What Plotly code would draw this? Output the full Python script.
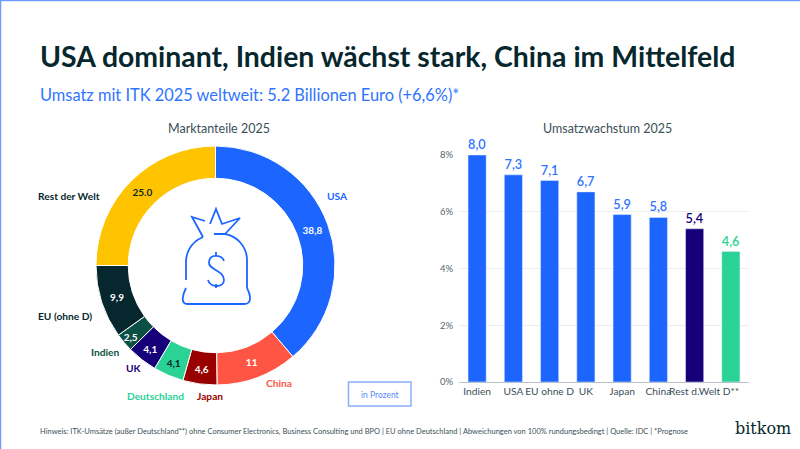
import plotly.graph_objects as go

W, H = 800, 449

# Marktanteile 2025
share_labels = ["USA", "China", "Japan", "Deutschland", "UK", "Indien", "EU (ohne D)", "Rest der Welt"]
share_values = [38.8, 11, 4.6, 4.1, 4.1, 2.5, 9.9, 25.0]
share_text = ["38,8", "11", "4,6", "4,1", "4,1", "2,5", "9,9", "25.0"]
share_colors = ["#1c66ff", "#ff5545", "#990000", "#2ad296", "#15007a", "#0b5044", "#06272d", "#ffc400"]
share_text_colors = ["white", "white", "white", "#06272d", "white", "white", "white", "#06272d"]

# Umsatzwachstum 2025
growth_labels = ["Indien", "USA", "EU ohne D", "UK", "Japan", "China", "Rest d.Welt", "D**"]
growth_values = [8.0, 7.3, 7.1, 6.7, 5.9, 5.8, 5.4, 4.6]
growth_colors = ["#1c66ff"] * 6 + ["#15007a", "#2ad296"]
growth_text_colors = ["#2f74ff"] * 6 + ["#15007a", "#2ad296"]

DARK = "#06272d"
BLUE = "#1c66ff"
FONT = "Lato"


def px(x):
    return x / W


def py(y):
    return 1 - y / H


def icon_path(cmds):
    # icon sketched in pixels, converted to paper coordinates
    out = []
    for c in cmds:
        letter, pts = c[0], c[1:]
        out.append(letter + " ".join(f"{px(x):.5f},{py(y):.5f}" for x, y in pts))
    return " ".join(out)


fig = go.Figure()

fig.add_trace(go.Pie(
    labels=share_labels, values=share_values, text=share_text,
    textinfo="text", textposition="inside", insidetextorientation="horizontal",
    textfont=dict(family=FONT, size=10, weight="bold", color=share_text_colors),
    marker=dict(colors=share_colors, line=dict(color="white", width=1)),
    hole=0.73, sort=False, direction="clockwise", rotation=0, showlegend=False,
    domain=dict(x=[px(96), px(335)], y=[py(385), py(146)]),
))

fig.add_trace(go.Bar(
    x=growth_labels, y=growth_values, marker_color=growth_colors, width=0.5,
    text=growth_values, texttemplate="%{y:.1f}", textposition="outside",
    textfont=dict(family=FONT, size=13, weight=600, color=growth_text_colors),
    cliponaxis=False, showlegend=False,
))

fig.update_layout(
    width=W, height=H, autosize=False,
    margin=dict(l=0, r=0, t=0, b=0, autoexpand=False),
    paper_bgcolor="white", plot_bgcolor="white",
    separators=",.",
    font=dict(family=FONT, color=DARK),
    uniformtext=dict(minsize=10, mode="show"),
    xaxis=dict(domain=[px(459), px(749)], tickangle=0, ticks="", showgrid=False,
               tickfont=dict(size=10.2, color="#3d5058"),
               showline=True, linecolor="#b9c2ca", linewidth=1),
    yaxis=dict(domain=[py(382), py(155)], range=[0, 8], tickvals=[0, 2, 4, 6, 8],
               ticktext=["0%", "2%", "4%", "6%", "8%"], ticks="", ticklabelstandoff=5,
               tickfont=dict(size=9.5, color="#55666e"),
               gridcolor="#ebedef", gridwidth=1, zeroline=False),
)

# texts placed by hand
def note(text, x, y, size, color, bold=False, anchor="left", family=FONT):
    if bold:
        text = f"<b>{text}</b>"
    fig.add_annotation(text=text, x=px(x), y=py(y), xref="paper", yref="paper",
                       xanchor=anchor, yanchor="middle", showarrow=False,
                       font=dict(size=size, color=color, family=family))


note("USA dominant, Indien wächst stark, China im Mittelfeld", 37.5, 56, 28.4, DARK, True)
note("Umsatz mit ITK 2025 weltweit: 5.2 Billionen Euro (+6,6%)*", 37.5, 94, 16.4, "#2f74ff")
note("Marktanteile 2025", 219, 128, 12.5, "#3d5058", anchor="center")
note("Umsatzwachstum 2025", 607, 128, 12.5, "#3d5058", anchor="center")

note("USA", 325, 196, 10.2, BLUE, True)
note("Rest der Welt", 36, 196, 10.2, DARK, True)
note("EU (ohne D)", 36, 316, 10.2, DARK, True)
note("Indien", 89, 352, 10.2, "#0b5044", True)
note("UK", 124, 368, 10.2, "#15007a", True)
note("Deutschland", 125, 396, 10.2, "#2ad296", True)
note("Japan", 195, 396, 10.2, "#990000", True)
note("China", 264, 383, 10.2, "#ff5545", True)

note("in Prozent", 379.5, 395, 8.5, "#5b8cff", anchor="center")
note("Hinweis: ITK-Umsätze (außer Deutschland**) ohne Consumer Electronics, Business Consulting und BPO | "
     "EU ohne Deutschland | Abweichungen von 100% rundungsbedingt | Quelle: IDC | *Prognose",
     37.5, 431, 7.5, "#3d5058")
note("bitkom", 732.5, 428, 16, DARK, family="DejaVu Serif")

# frame at top and left edge
fig.add_shape(type="line", xref="paper", yref="paper", x0=0, x1=1, y0=py(0.5), y1=py(0.5),
              line=dict(color="#6f9bff", width=1.5))
fig.add_shape(type="line", xref="paper", yref="paper", x0=px(0.5), x1=px(0.5), y0=0, y1=1,
              line=dict(color="#6f9bff", width=1.5))

# "in Prozent" box
fig.add_shape(type="rect", xref="paper", yref="paper", x0=px(348.5), x1=px(411), y0=py(406), y1=py(382),
              line=dict(color="#8aaeff", width=1.5))

# money bag icon
ICON = [
    # bag outline, left part
    [("M", (186, 280)), ("L", (186, 262)), ("C", (186, 255), (189, 243), (203, 237))],
    # bag top and right side
    [("M", (214, 234)), ("L", (225, 234)), ("C", (238, 236), (247, 248), (247, 260)), ("L", (247, 288))],
    # bottom
    [("M", (186, 288)), ("C", (183, 294), (180, 304), (187, 304)), ("L", (244, 304)),
     ("C", (252, 304), (251, 296), (247, 288))],
    # left ear
    [("M", (203, 237)), ("L", (192, 217)), ("L", (205, 221))],
    # right ear
    [("M", (210, 224)), ("L", (216, 209)), ("L", (222, 224)), ("L", (240, 218)), ("L", (225, 234))],
    # dollar
    [("M", (224, 261)), ("C", (222, 255), (210, 253), (209, 262)), ("C", (208, 270), (224, 270), (224, 280)),
     ("C", (224, 288), (210, 288), (208, 280))],
    [("M", (216, 252)), ("L", (216, 256))],
    [("M", (216, 284)), ("L", (216, 288))],
]
for cmds in ICON:
    fig.add_shape(type="path", xref="paper", yref="paper", path=icon_path(cmds),
                  line=dict(color=BLUE, width=1.8))

# the page's default margins would push the figure away from the corner
PAGE_FIX = """
document.body.style.margin = '0';
var gd = document.getElementById('{plot_id}');
gd.style.position = 'fixed';
gd.style.left = '0';
gd.style.top = '0';
"""

fig.write_html("out.html", post_script=PAGE_FIX, config=dict(displayModeBar=False))
